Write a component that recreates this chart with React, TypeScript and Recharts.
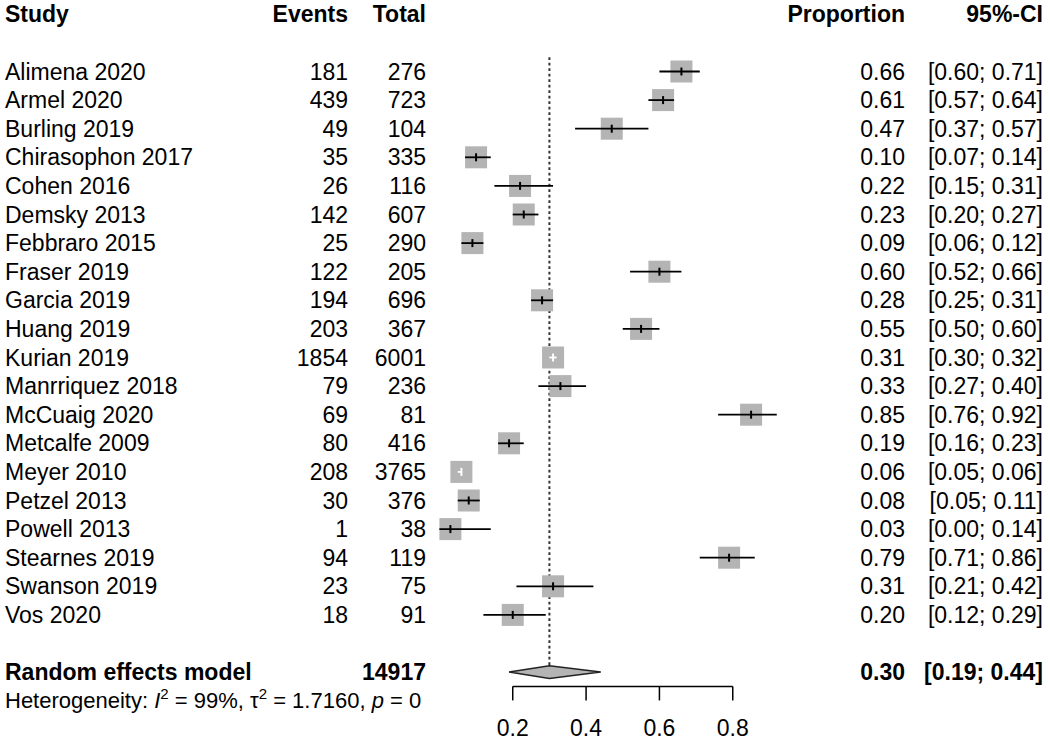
import { ScatterChart, Scatter, XAxis, YAxis, ReferenceLine, ReferenceArea } from 'recharts';

const studies = [
  'Alimena 2020', 'Armel 2020', 'Burling 2019', 'Chirasophon 2017', 'Cohen 2016',
  'Demsky 2013', 'Febbraro 2015', 'Fraser 2019', 'Garcia 2019', 'Huang 2019',
  'Kurian 2019', 'Manrriquez 2018', 'McCuaig 2020', 'Metcalfe 2009', 'Meyer 2010',
  'Petzel 2013', 'Powell 2013', 'Stearnes 2019', 'Swanson 2019', 'Vos 2020'
];
const events = [181, 439, 49, 35, 26, 142, 25, 122, 194, 203, 1854, 79, 69, 80, 208, 30, 1, 94, 23, 18];
const totals = [276, 723, 104, 335, 116, 607, 290, 205, 696, 367, 6001, 236, 81, 416, 3765, 376, 38, 119, 75, 91];
const proportions = [0.66, 0.61, 0.47, 0.10, 0.22, 0.23, 0.09, 0.60, 0.28, 0.55, 0.31, 0.33, 0.85, 0.19, 0.06, 0.08, 0.03, 0.79, 0.31, 0.20];
const lowers = [0.60, 0.57, 0.37, 0.07, 0.15, 0.20, 0.06, 0.52, 0.25, 0.50, 0.30, 0.27, 0.76, 0.16, 0.05, 0.05, 0.00, 0.71, 0.21, 0.12];
const uppers = [0.71, 0.64, 0.57, 0.14, 0.31, 0.27, 0.12, 0.66, 0.31, 0.60, 0.32, 0.40, 0.92, 0.23, 0.06, 0.11, 0.14, 0.86, 0.42, 0.29];

const pooled = { est: 0.30, lo: 0.19, hi: 0.44, total: 14917 };
const xTicks = [0.2, 0.4, 0.6, 0.8];

const HEADER_ROW = -2;
const SUMMARY_ROW = 21;

const rows = studies.map((name, i) => ({
  name,
  row: i,
  events: events[i],
  total: totals[i],
  prop: proportions[i],
  lo: lowers[i],
  hi: uppers[i],
  // CI fits inside the square -> drawn in white, as meta does
  inner: uppers[i] - lowers[i] < 0.05,
}));

const yTicks = [HEADER_ROW, ...rows.map(r => r.row), SUMMARY_ROW];

const FONT = '"Liberation Sans", Arial, Helvetica, sans-serif';
const FS = 23;
const SQ = 22;

const RowTick = ({ y, payload }) => {
  const v = payload.value;
  const by = y + 8;
  if (v === HEADER_ROW) {
    return (
      <g fontFamily={FONT} fontSize={FS} fontWeight="bold" fill="#000">
        <text x={5} y={by}>Study</text>
        <text x={348} y={by} textAnchor="end">Events</text>
        <text x={426} y={by} textAnchor="end">Total</text>
        <text x={905} y={by} textAnchor="end">Proportion</text>
        <text x={1043} y={by} textAnchor="end">95%-CI</text>
      </g>
    );
  }
  if (v === SUMMARY_ROW) {
    return (
      <g fontFamily={FONT} fill="#000">
        <g fontSize={FS} fontWeight="bold">
          <text x={5} y={by}>Random effects model</text>
          <text x={426} y={by} textAnchor="end">{pooled.total}</text>
          <text x={905} y={by} textAnchor="end">{pooled.est.toFixed(2)}</text>
          <text x={1043} y={by} textAnchor="end">{`[${pooled.lo.toFixed(2)}; ${pooled.hi.toFixed(2)}]`}</text>
        </g>
        <text x={5} y={by + 28} fontSize={22}>
          Heterogeneity: <tspan fontStyle="italic">I</tspan>
          <tspan dy={-9} fontSize={15}>2</tspan>
          <tspan dy={9}> = 99%, τ</tspan>
          <tspan dy={-9} fontSize={15}>2</tspan>
          <tspan dy={9}> = 1.7160, </tspan>
          <tspan fontStyle="italic">p</tspan>
          <tspan> = 0</tspan>
        </text>
      </g>
    );
  }
  const r = rows[v];
  if (!r) return null;
  return (
    <g fontFamily={FONT} fontSize={FS} fill="#000">
      <text x={5} y={by}>{r.name}</text>
      <text x={348} y={by} textAnchor="end">{r.events}</text>
      <text x={426} y={by} textAnchor="end">{r.total}</text>
      <text x={905} y={by} textAnchor="end">{r.prop.toFixed(2)}</text>
      <text x={1043} y={by} textAnchor="end">{`[${r.lo.toFixed(2)}; ${r.hi.toFixed(2)}]`}</text>
    </g>
  );
};

// square at the estimate, CI line drawn over it (white when it fits inside)
const StudyMark = ({ x1, x2, y1, r }) => {
  const cx = x1 + ((x2 - x1) * (r.prop - r.lo)) / (r.hi - r.lo);
  const col = r.inner ? '#fff' : '#000';
  return (
    <g>
      <rect x={cx - SQ / 2} y={y1 - SQ / 2} width={SQ} height={SQ} fill="#b4b4b4" />
      <line x1={x1} x2={x2} y1={y1} y2={y1} stroke={col} strokeWidth={1.8} />
      <line x1={cx} x2={cx} y1={y1 - 4} y2={y1 + 4} stroke={col} strokeWidth={2} />
    </g>
  );
};

const Diamond = ({ x, y, width, height }) => {
  const mid = x + (width * (pooled.est - pooled.lo)) / (pooled.hi - pooled.lo);
  const cy = y + height / 2;
  return (
    <polygon
      points={`${x},${cy} ${mid},${y} ${x + width},${cy} ${mid},${y + height}`}
      fill="#b4b4b4"
      stroke="#222"
      strokeWidth={1.5}
    />
  );
};

export default function App() {
  return (
    <div style={{ position: 'absolute', left: 0, top: 0, background: '#fff' }}>
      <ScatterChart width={1050} height={744} margin={{ top: 0, right: 243.9, bottom: 0, left: 0 }}>
        <XAxis
          type="number"
          dataKey="prop"
          domain={[0, 1]}
          ticks={xTicks}
          interval={0}
          axisLine={false}
          tickLine={{ stroke: '#000', strokeWidth: 1.5 }}
          tickSize={14}
          tickMargin={19}
          height={57.6}
          tick={{ fontSize: FS, fill: '#000', fontFamily: FONT }}
          tickFormatter={v => v.toFixed(1)}
        />
        <YAxis
          type="number"
          dataKey="row"
          domain={[-2.5, 21.5]}
          reversed
          ticks={yTicks}
          interval={0}
          width={439.4}
          axisLine={false}
          tickLine={false}
          tick={props => <RowTick {...props} />}
        />
        {/* points carry the data; the visible squares are drawn with their CI segments below */}
        <Scatter data={rows} fill="none" shape={() => <g />} isAnimationActive={false} />
        <ReferenceLine
          segment={[{ x: pooled.est, y: -0.5 }, { x: pooled.est, y: 20.78 }]}
          stroke="#333"
          strokeWidth={2}
          strokeDasharray="2.7 2.8"
          ifOverflow="visible"
        />
        {rows.map(r => (
          <ReferenceLine
            key={r.name}
            segment={[{ x: r.lo, y: r.row }, { x: r.hi, y: r.row }]}
            ifOverflow="visible"
            shape={props => <StudyMark {...props} r={r} />}
          />
        ))}
        <ReferenceArea
          x1={pooled.lo}
          x2={pooled.hi}
          y1={SUMMARY_ROW - 0.22}
          y2={SUMMARY_ROW + 0.22}
          ifOverflow="visible"
          shape={props => <Diamond {...props} />}
        />
        <ReferenceLine
          segment={[{ x: 0.2, y: 21.5 }, { x: 0.8, y: 21.5 }]}
          stroke="#000"
          strokeWidth={1.5}
          ifOverflow="visible"
        />
      </ScatterChart>
    </div>
  );
}
